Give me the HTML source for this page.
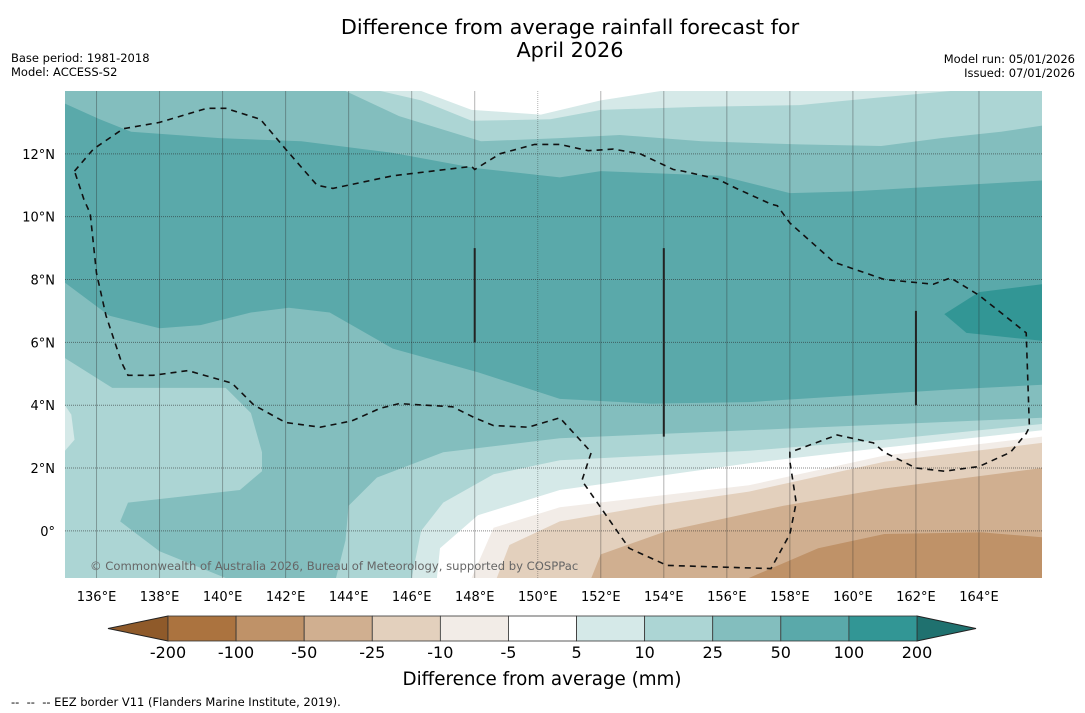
<!DOCTYPE html>
<html><head><meta charset="utf-8">
<style>
body{margin:0;background:#fff;font-family:"DejaVu Sans","Liberation Sans",sans-serif;}
svg{display:block}
</style></head>
<body>
<svg id="chart" width="1085" height="713" xmlns="http://www.w3.org/2000/svg" font-family="DejaVu Sans, Liberation Sans, sans-serif">
<text x="570" y="34" text-anchor="middle" font-size="20.8">Difference from average rainfall forecast for</text>
<text x="570" y="57" text-anchor="middle" font-size="20.8">April 2026</text>
<text x="11" y="62" font-size="11.5">Base period: 1981-2018</text>
<text x="11" y="76" font-size="11.5">Model: ACCESS-S2</text>
<text x="1075" y="63" font-size="11.5" text-anchor="end">Model run: 05/01/2026</text>
<text x="1075" y="77" font-size="11.5" text-anchor="end">Issued: 07/01/2026</text>
<g id="map"></g>
<g id="cbar"></g>
<text x="542" y="685" text-anchor="middle" font-size="18.3">Difference from average (mm)</text>
<text x="11" y="706" font-size="11.5" xml:space="preserve" style="white-space:pre">--  --  -- EEZ border V11 (Flanders Marine Institute, 2019).</text>
</svg>
<script>
const lonTicks=[136,138,140,142,144,146,148,150,152,154,156,158,160,162,164];
const latTicks=[0,2,4,6,8,10,12];
const latLabels=["0°","2°N","4°N","6°N","8°N","10°N","12°N"];
const levels=["-200","-100","-50","-25","-10","-5","5","10","25","50","100","200"];
const levelColors=["#ab733f","#bf9268","#d0af90","#e3d0bd","#f2ece7","#ffffff","#d5e9e8","#acd5d4","#83bebe","#5aa9aa","#329695"];
// contour boundaries (lon,lat)
const top1025=[[143.9,14],[145.6,13.2],[148.2,12.4],[150.7,12.5],[152.6,12.6],[155.2,12.4],[158.3,12.3],[160.9,12.25],[162.8,12.5],[164.7,12.7],[166,12.9]];
const top0510=[[145,14],[146.3,13.7],[147.9,13.05],[150.4,13.1],[152,13.4],[155.2,13.5],[158.3,13.55],[160.9,13.8],[163.1,14]];
const topWhite=[[146.3,14],[147.9,13.4],[150.1,13.25],[152,13.7],[153.9,14]];
const top50100=[[135,13.6],[136.1,13.1],[137.1,12.7],[139.9,12.5],[142.5,12.4],[145.4,12.03],[148,11.55],[150.7,11.25],[152,11.45],[155.8,11.3],[158,10.75],[159.9,10.8],[166,11.15]];
const bot50100=[[135,7.9],[136.4,6.85],[138,6.45],[139.3,6.55],[140.9,6.95],[142.1,7.1],[143.4,6.95],[145.4,5.8],[148.1,5.05],[150.7,4.2],[153.6,4.05],[156.7,4.1],[159.9,4.3],[163.1,4.5],[166,4.65]];
const blob100200=[[162.9,6.9],[164,7.6],[166,7.85],[166,6.05],[163.6,6.3]];
const leftBlob1025=[[135,5.5],[136.5,4.55],[140.1,4.55],[140.9,3.75],[141.25,2.5],[141.25,1.9],[140.55,1.3],[137,0.9],[136.75,0.3],[138,-0.65],[140.1,-1.5],[135,-1.5]];
const leftBit0510=[[135,4],[135.2,3.7],[135.3,2.9],[135,2.55]];
const b1025=[[143.6,-1.5],[143.9,-0.3],[144,0.8],[144.9,1.7],[147,2.5],[150.7,2.95],[157.8,3.25],[166,3.6]];
const b0510=[[146,-1.5],[146.3,0],[147,0.9],[148.6,1.8],[150.7,2.25],[156.7,2.55],[161,2.9],[166,3.4]];
const bWhite=[[146.8,-1.5],[146.9,-0.55],[148.1,0.5],[150.7,1.3],[156.7,2.15],[161,2.65],[166,3.2]];
const bOff=[[147.9,-1.5],[148.6,0.1],[150.7,0.75],[156.7,1.45],[161,2.4],[166,3]];
const bBeige=[[148.7,-1.5],[149.1,-0.45],[150.7,0.3],[153.6,0.8],[156.7,1.25],[161,2.2],[166,2.8]];
const bTan=[[151.7,-1.5],[152,-0.75],[154.1,0],[157.8,0.8],[161,1.35],[166,2]];
const bBrown=[[156.7,-1.5],[158.9,-0.55],[161,-0.1],[164.1,-0.05],[166,-0.2]];
const eez=[[135.3,11.45],[135.9,12.15],[136.85,12.8],[138,13],[139.5,13.45],[140.1,13.45],[141.2,13.1],[142,12.15],[143,11],[143.5,10.9],[145.4,11.3],[147.9,11.6],[148,11.5],[148.8,12],[149.9,12.3],[150.7,12.3],[151.6,12.1],[152.4,12.15],[153.25,12],[154.3,11.5],[154.6,11.45],[155.7,11.2],[156.3,10.9],[157.4,10.4],[157.6,10.35],[158,9.8],[159.4,8.55],[161,8],[162.55,7.85],[163.1,8.05],[164,7.5],[165.5,6.3],[165.6,3.3],[165.5,3.1],[165,2.5],[164,2.05],[162.9,1.9],[162,2],[161,2.5],[160.65,2.8],[159.5,3.05],[158,2.5],[158,2.2],[158.2,0.9],[158,-0.1],[157.4,-1.2],[154.1,-1.1],[152.9,-0.55],[151.4,1.6],[151.7,2.5],[150.7,3.6],[149.7,3.3],[148.6,3.35],[148,3.6],[147.3,3.95],[145.6,4.05],[145,3.9],[144.1,3.5],[143.1,3.3],[142,3.45],[141,4],[140.3,4.7],[138.9,5.1],[137.8,4.95],[137,4.95],[136.8,5.35],[136.3,6.85],[136,8.2],[135.8,10.1],[135.6,10.55]];
const solidLines=[[148,9,6],[154,9,3],[162,7,4]];

const X0=65,X1=1042,Y0=91,Y1=578,LON0=135,LON1=166,LAT0=-1.5,LAT1=14;
const sx=lon=>X0+(lon-LON0)/(LON1-LON0)*(X1-X0);
const sy=lat=>Y1-(lat-LAT0)/(LAT1-LAT0)*(Y1-Y0);
const NS="http://www.w3.org/2000/svg";
const map=document.getElementById('map');
function mk(tag,attrs,parent){const e=document.createElementNS(NS,tag);for(const k in attrs)e.setAttribute(k,attrs[k]);(parent||map).appendChild(e);return e;}
const pts=a=>a.map(p=>sx(p[0]).toFixed(1)+','+sy(p[1]).toFixed(1)).join(' ');
function poly(a,fill,name){const e=mk('polygon',{points:pts(a),fill:fill});

return e;}
const bg=mk('rect',{x:X0,y:Y0,width:X1-X0,height:Y1-Y0,fill:levelColors[8]});


poly(top1025.concat([[166,14],[143.9,14]]),levelColors[7],'band-10-25-top');
poly(top0510.concat([[145,14]]),levelColors[6],'band-5-10-top');
poly(topWhite,levelColors[5],'band-white-top');
poly(top50100.concat(bot50100.slice().reverse()),levelColors[9],'band-50-100');
poly(blob100200,levelColors[10],'band-100-200');
poly(leftBlob1025,levelColors[7],'band-10-25-left');
poly(leftBit0510,levelColors[6],'band-5-10-left');
const below=(c,col,n)=>poly(c.concat([[166,-1.5]]),col,n);
below(b1025,levelColors[7],'band-10-25-south');
below(b0510,levelColors[6],'band-5-10-south');
below(bWhite,levelColors[5],'band-white-south');
below(bOff,levelColors[4],'band-minus5-10');
below(bBeige,levelColors[3],'band-minus10-25');
below(bTan,levelColors[2],'band-minus25-50');
below(bBrown,levelColors[1],'band-minus50-100');
lonTicks.forEach(l=>{const g=mk('line',{x1:sx(l),x2:sx(l),y1:Y0,y2:Y1,stroke:'rgba(40,40,40,0.35)','stroke-width':1,'stroke-dasharray':l===150?'1,1':'none'});


const t=mk('text',{x:sx(l),y:601,'text-anchor':'middle','font-size':13});t.textContent=l+'°E';

});
latTicks.forEach((l,i)=>{const g=mk('line',{x1:X0,x2:X1,y1:sy(l),y2:sy(l),stroke:'rgba(40,40,40,0.55)','stroke-width':1,'stroke-dasharray':'1,1'});


const t=mk('text',{x:55,y:sy(l)+5,'text-anchor':'end','font-size':13});t.textContent=latLabels[i];

});
const ez=mk('polygon',{points:pts(eez),fill:'none',stroke:'#111','stroke-width':1.6,'stroke-dasharray':'6,5'});


solidLines.forEach(s=>{const l=mk('line',{x1:sx(s[0]),x2:sx(s[0]),y1:sy(s[1]),y2:sy(s[2]),stroke:'#222','stroke-width':2});

});
const cp=mk('text',{x:90,y:570,'font-size':11.6,fill:'#666'});cp.textContent='© Commonwealth of Australia 2026, Bureau of Meteorology, supported by COSPPac';


const cb=document.getElementById('cbar');
const CX0=168,CW=68.09,CY=616,CH=25;
const lt=mk('polygon',{points:`108,${CY+CH/2} ${CX0},${CY} ${CX0},${CY+CH}`,fill:'#8f5a2a',stroke:'#222','stroke-width':1},cb);


const xe=CX0+CW*(levelColors.length);
const rt=mk('polygon',{points:`${xe},${CY} ${xe},${CY+CH} 976,${CY+CH/2}`,fill:'#1f716f',stroke:'#222','stroke-width':1},cb);


levelColors.forEach((c,i)=>{const r=mk('rect',{x:CX0+i*CW,y:CY,width:CW,height:CH,fill:c,stroke:'#333','stroke-width':0.8},cb);

});
levels.forEach((v,i)=>{const t=mk('text',{x:CX0+i*CW,y:658,'text-anchor':'middle','font-size':16},cb);t.textContent=v;

});
</script>
</body></html>
